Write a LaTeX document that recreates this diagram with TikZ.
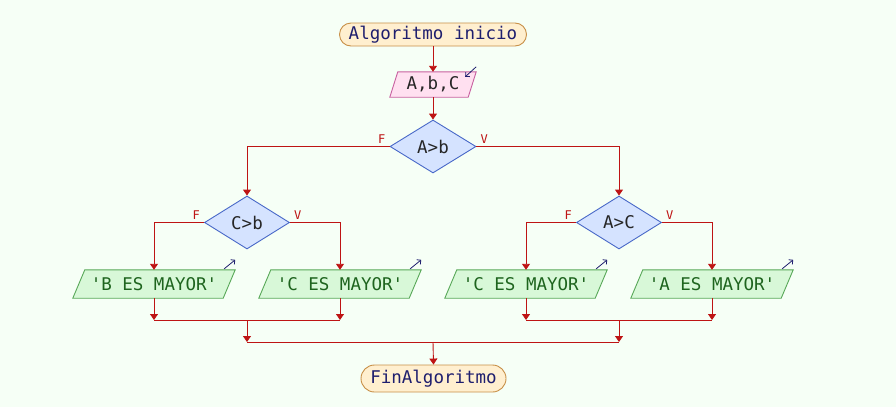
\documentclass[tikz,border=0pt]{standalone}
\usepackage{fontspec}
\setmonofont{DejaVu Sans Mono}
\usetikzlibrary{shapes.geometric,arrows.meta,backgrounds,calc}
\definecolor{bgc}{RGB}{246,255,246}
\definecolor{termfill}{RGB}{255,239,207}
\definecolor{termdraw}{RGB}{200,144,72}
\definecolor{inpfill}{RGB}{255,224,240}
\definecolor{inpdraw}{RGB}{200,96,160}
\definecolor{decfill}{RGB}{213,227,255}
\definecolor{decdraw}{RGB}{72,104,200}
\definecolor{outfill}{RGB}{216,248,216}
\definecolor{outdraw}{RGB}{88,168,88}
\definecolor{arrc}{RGB}{190,20,20}
\definecolor{navy}{RGB}{30,30,110}
\definecolor{dgreen}{RGB}{30,100,30}
\tikzset{
  base/.style={font=\ttfamily\fontsize{17.5}{20}\selectfont, inner sep=0pt},
  term/.style={base, rectangle, rounded corners=11.5pt, draw=termdraw, fill=termfill, line width=0.9pt, text=navy, minimum height=23pt},
  iobox/.style={base, rectangle, minimum height=25pt, minimum width=86pt, text=black!85},
  outbox/.style={base, rectangle, minimum height=28pt, minimum width=162pt, text=dgreen},
  decision/.style={base, diamond, draw=decdraw, fill=decfill, line width=0.9pt, minimum width=86pt, minimum height=53pt, text=black!85},
  arr/.style={draw=arrc, line width=0.9pt, -{Triangle[width=8pt,length=6pt]}},
  ln/.style={draw=arrc, line width=0.9pt},
  lbl/.style={font=\ttfamily\fontsize{12}{13}\selectfont, text=arrc, inner sep=0pt},
  mini/.style={draw=navy, line width=0.8pt, -{Straight Barb[length=3pt,width=6pt]}}
}
\begin{document}
\begin{tikzpicture}[x=1pt,y=-1pt]
\begin{pgfonlayer}{background}
\fill[bgc] (0,0) rectangle (896,407);
\end{pgfonlayer}
\useasboundingbox (0,0) rectangle (896,407);

% nodes
\node[term, minimum width=187pt] (start) at (433,34.5) {Algoritmo inicio};
\node[iobox] (inp) at (433,84.5) {A,b,C};
\node[decision] (d1) at (433,146.5) {A>b};
\node[decision, minimum width=85pt] (d2) at (247,222.5) {C>b};
\node[decision, minimum width=85pt] (d3) at (619,222.5) {A>C};
\node[outbox] (o1) at (154,284) {'B ES MAYOR'};
\node[outbox] (o2) at (340,284) {'C ES MAYOR'};
\node[outbox] (o3) at (526,284) {'C ES MAYOR'};
\node[outbox] (o4) at (712,284) {'A ES MAYOR'};
\node[term, minimum width=145pt, minimum height=27pt, rounded corners=13.5pt] (fin) at (433.5,378.5) {FinAlgoritmo};

% parallelogram outlines
\begin{pgfonlayer}{background}
\draw[draw=inpdraw, fill=inpfill, line width=0.9pt]
  (inp.south west) -- ([xshift=8pt]inp.north west) -- (inp.north east) -- ([xshift=-8pt]inp.south east) -- cycle;
\foreach \o in {o1,o2,o3,o4}{
  \draw[draw=outdraw, fill=outfill, line width=0.9pt]
    (\o.south west) -- ([xshift=12pt]\o.north west) -- (\o.north east) -- ([xshift=-12pt]\o.south east) -- cycle;
}
\end{pgfonlayer}

% small arrows
\draw[mini] ([yshift=5pt]inp.north east) -- ([xshift=-11pt,yshift=-5pt]inp.north east);
\foreach \o in {o1,o2,o3,o4}{
  \draw[mini] ([xshift=-11pt,yshift=1pt]\o.north east) -- ([yshift=10pt]\o.north east);
}

% junction coordinates
\coordinate (jl) at (247,320);
\coordinate (jr) at (619,320);
\coordinate (jm) at (433,342);

% connectors
\draw[arr] (start) -- (inp);
\draw[arr] (inp) -- (d1);
\draw[arr] (d1.west) -| (d2.north);
\draw[arr] (d1.east) -| (d3.north);
\draw[arr] (d2.west) -| (o1.north);
\draw[arr] (d2.east) -| (o2.north);
\draw[arr] (d3.west) -| (o3.north);
\draw[arr] (d3.east) -| (o4.north);

\draw[arr] (o1.south) -- (o1.south |- jl);
\draw[arr] (o2.south) -- (o2.south |- jl);
\draw[ln] (o1.south |- jl) -- (o2.south |- jl);
\draw[arr] (o3.south) -- (o3.south |- jr);
\draw[arr] (o4.south) -- (o4.south |- jr);
\draw[ln] (o3.south |- jr) -- (o4.south |- jr);

\draw[arr] (jl) -- (jl |- jm);
\draw[arr] (jr) -- (jr |- jm);
\draw[ln] (jl |- jm) -- (jr |- jm);
\draw[arr] (jm) -- (fin.north);

% labels
\node[lbl, anchor=south east] (f1) at ([xshift=-4pt,yshift=3pt]d1.west) {F};
\node[lbl, anchor=south west] (v1) at ([xshift=4pt,yshift=3pt]d1.east) {V};
\node[lbl, anchor=south east] (f2) at ([xshift=-4pt,yshift=3pt]d2.west) {F};
\node[lbl, anchor=south west] (v2) at ([xshift=4pt,yshift=3pt]d2.east) {V};
\node[lbl, anchor=south east] (f3) at ([xshift=-4pt,yshift=3pt]d3.west) {F};
\node[lbl, anchor=south west] (v3) at ([xshift=4pt,yshift=3pt]d3.east) {V};
\end{tikzpicture}
\end{document}
